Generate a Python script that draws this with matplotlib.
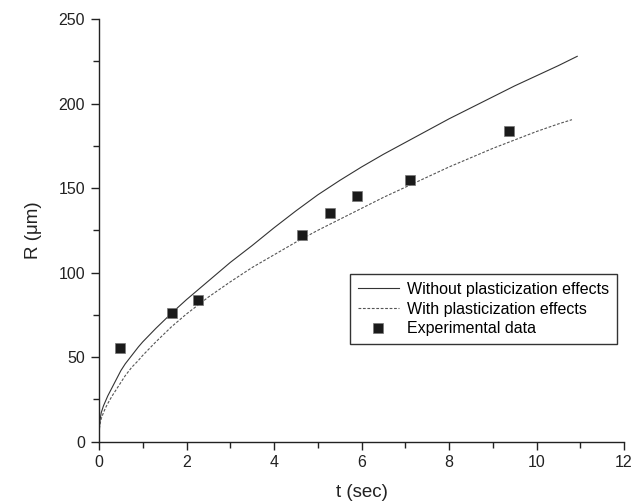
import numpy as np
import matplotlib
matplotlib.use('Agg')
import matplotlib.pyplot as plt
from matplotlib.ticker import MultipleLocator

plt.rcParams['font.family'] = ['Liberation Sans', 'DejaVu Sans']

# --- curve without plasticization ---
t_without = [0, 0.02, 0.05, 0.1, 0.15, 0.2, 0.3, 0.4, 0.5, 0.6, 0.75, 0.9, 1.0, 1.15, 1.3,
             1.5, 1.66, 2.0, 2.5, 3.0, 3.5, 4.0, 4.5, 5.0, 5.5, 6.0, 6.5, 7.0, 7.5,
             8.0, 8.5, 9.0, 9.5, 10.0, 10.5, 10.93]
r_without = [5, 12, 17, 21, 24, 27, 32, 37, 42, 46, 51, 56, 59, 63, 67,
             72, 76, 84, 95, 106, 116, 126.5, 136.5, 146, 154.5, 162.5, 170, 177, 184,
             191, 197.5, 204, 210.5, 216.5, 222.5, 228]

# --- curve with plasticization ---
t_with = [0, 0.02, 0.05, 0.1, 0.15, 0.2, 0.3, 0.4, 0.5, 0.6, 0.75, 0.9, 1.0, 1.15, 1.3,
          1.5, 1.66, 2.0, 2.5, 3.0, 3.5, 4.0, 4.5, 5.0, 5.5, 6.0, 6.5, 7.0, 7.5,
          8.0, 8.5, 9.0, 9.5, 10.0, 10.5, 10.81]
r_with = [5, 10, 13.5, 17, 20, 22.5, 27, 31, 35, 39, 44, 48, 51, 55, 59,
          64, 68, 75.5, 85.5, 94.5, 103, 110.5, 118, 125, 131.5, 138, 144.5, 150.5, 156.5,
          162.5, 168, 173.5, 178.5, 183.5, 188, 190.5]

# --- experimental data ---
t_exp = [0.48, 1.66, 2.26, 4.65, 5.27, 5.9, 7.1, 9.37]
r_exp = [55.5, 76, 83.5, 122.5, 135.5, 145.5, 155, 183.5]

fig = plt.figure(figsize=(6.36, 5.04), dpi=100)
ax = fig.add_axes([0.1557, 0.124, 0.8255, 0.838])

ax.plot(t_without, r_without, '-', color='#333333', lw=0.8,
        label='Without plasticization effects')
ax.plot(t_with, r_with, color='#555555', lw=0.8, linestyle=(0, (2.5, 1.5)),
        label='With plasticization effects')
ax.plot(t_exp, r_exp, 's', color='#1a1a1a', markersize=6.5, markeredgecolor='#777777',
        markeredgewidth=0.5, linestyle='none', label='Experimental data')

ax.set_xlim(0, 12)
ax.set_ylim(0, 250)
ax.xaxis.set_major_locator(MultipleLocator(2))
ax.xaxis.set_minor_locator(MultipleLocator(1))
ax.yaxis.set_major_locator(MultipleLocator(50))
ax.yaxis.set_minor_locator(MultipleLocator(25))

for s in ['top', 'right']:
    ax.spines[s].set_visible(False)
for s in ['left', 'bottom']:
    ax.spines[s].set_linewidth(1.0)
    ax.spines[s].set_color('#222222')

ax.tick_params(which='major', direction='out', length=6, width=1.0, labelsize=11.5,
               colors='#222222', pad=4)
ax.tick_params(which='minor', direction='out', length=4, width=1.0, colors='#222222')

ax.set_xlabel('t (sec)', fontsize=13.5, color='#222222', labelpad=10)
ax.set_ylabel('R (μm)', fontsize=13.5, color='#222222', labelpad=12)

leg = ax.legend(loc='upper right', bbox_to_anchor=(0.987, 0.397), fontsize=11.5,
                fancybox=False, framealpha=1, edgecolor='#333333',
                handlelength=2.6, handletextpad=0.5, borderpad=0.5, labelspacing=0.3,
                borderaxespad=0)
leg.get_frame().set_linewidth(1.0)

fig.savefig('out.png', dpi=100)
